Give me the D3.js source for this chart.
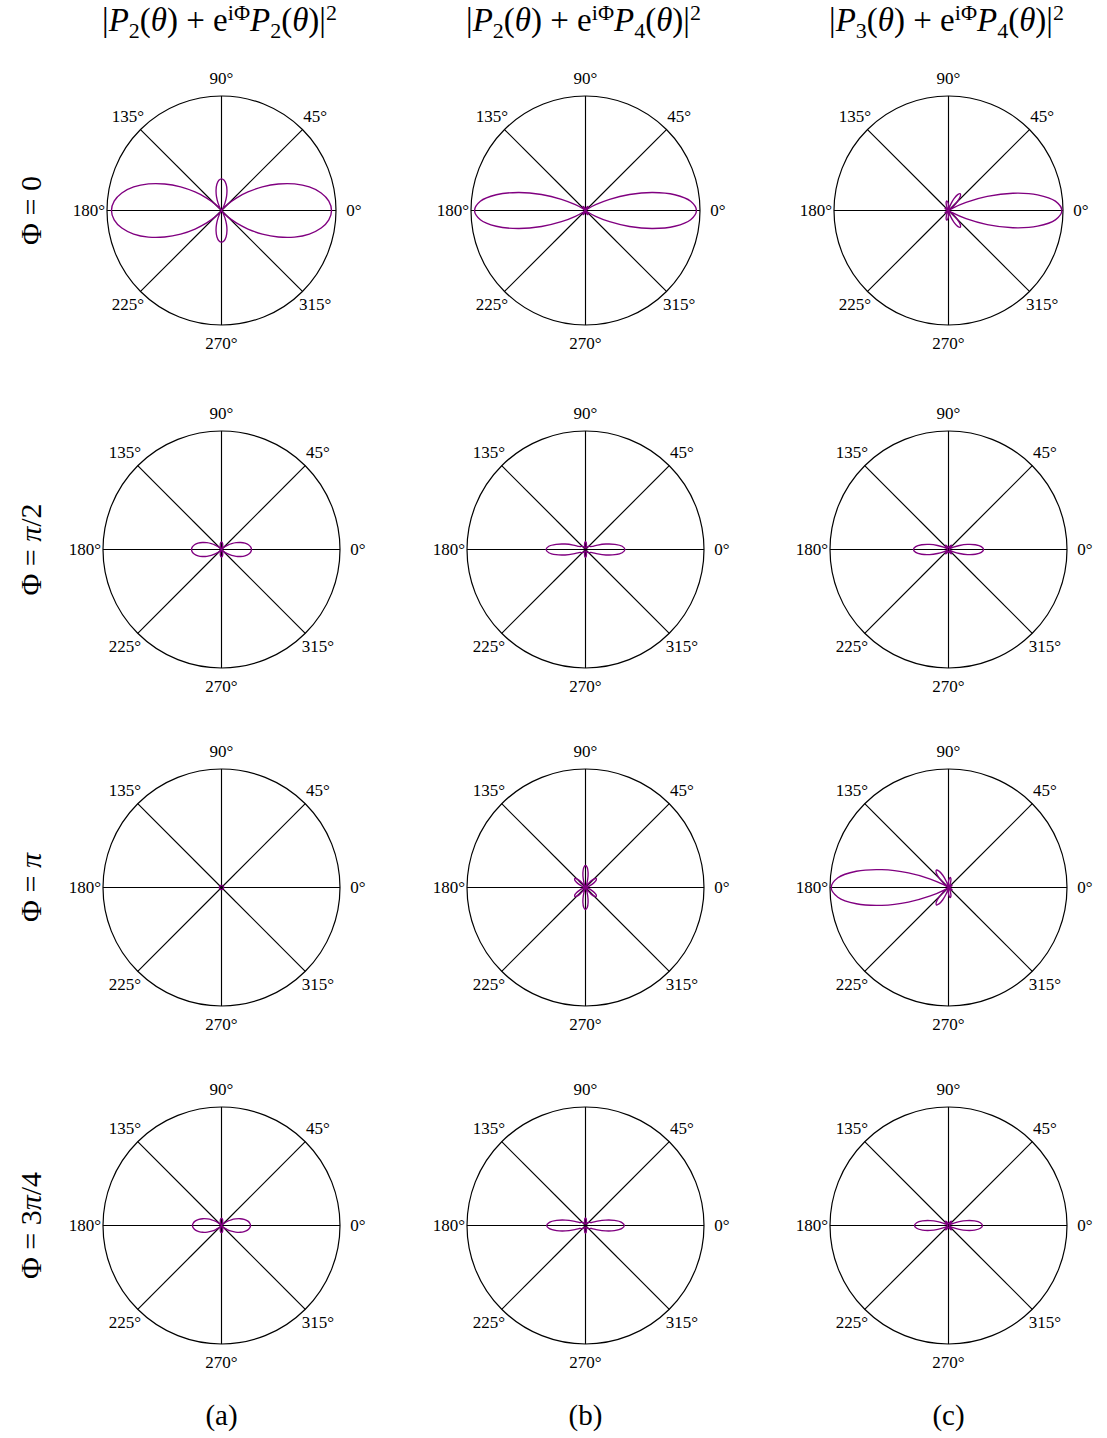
<!DOCTYPE html>
<html><head><meta charset="utf-8">
<script src="https://cdn.jsdelivr.net/npm/d3@7"></script>
<style>body{margin:0;background:#fff}</style>
</head><body>
<script>
// ---------------- data ----------------
const columnIds = ["(a)", "(b)", "(c)"];
const legendreOrders = [["2", "2"], ["2", "4"], ["3", "4"]];
const phaseLabels = [["0"], ["", "π", "/2"], ["", "π"], ["3", "π", "/4"]];
const thetaTicks = [0, 45, 90, 135, 180, 225, 270, 315];
const sampleAngles = [0,5,10,15,20,25,30,35,40,45,50,55,60,65,70,75,80,85,90,95,100,105,110,115,120,125,130,135,140,145,150,155,160,165,170,175,180];

// radius (fraction of outer circle) at each sample angle, 0..180 deg (curve is mirrored about 0 deg)
const phi0_a = [0.961,0.941,0.884,0.794,0.679,0.548,0.412,0.282,0.169,0.079,0.021,0.000,0.023,0.069,0.127,0.184,0.233,0.265,0.276,0.265,0.233,0.184,0.127,0.069,0.023,0.000,0.021,0.079,0.169,0.282,0.412,0.548,0.679,0.794,0.884,0.941,0.961];
const phi0_b = [0.969,0.922,0.792,0.608,0.409,0.232,0.102,0.027,0.001,0.006,0.023,0.037,0.042,0.036,0.026,0.016,0.009,0.005,0.004,0.005,0.009,0.016,0.026,0.036,0.042,0.037,0.023,0.006,0.001,0.027,0.102,0.232,0.409,0.608,0.792,0.922,0.969];
const phi0_c = [0.990,0.937,0.790,0.582,0.360,0.169,0.043,0.000,0.042,0.108,0.160,0.179,0.160,0.114,0.059,0.016,0.000,0.018,0.049,0.075,0.086,0.078,0.057,0.031,0.009,0.000,0.007,0.020,0.031,0.036,0.033,0.024,0.014,0.006,0.002,0.000,0.000];

const phiHalfPi_a = [0.253,0.247,0.231,0.205,0.172,0.136,0.099,0.065,0.037,0.016,0.004,0.000,0.004,0.014,0.027,0.040,0.052,0.060,0.063,0.060,0.052,0.040,0.027,0.014,0.004,0.000,0.004,0.016,0.037,0.065,0.099,0.136,0.172,0.205,0.231,0.247,0.253];
const phiHalfPi_b = [0.333,0.311,0.252,0.178,0.110,0.061,0.050,0.047,0.042,0.038,0.033,0.025,0.016,0.013,0.017,0.030,0.046,0.060,0.065,0.060,0.046,0.030,0.017,0.013,0.016,0.025,0.033,0.038,0.042,0.047,0.050,0.061,0.110,0.178,0.252,0.311,0.333];
const phiHalfPi_c = [0.296,0.278,0.230,0.165,0.099,0.046,0.015,0.008,0.015,0.029,0.041,0.044,0.041,0.033,0.025,0.020,0.019,0.020,0.021,0.020,0.019,0.020,0.025,0.033,0.041,0.044,0.041,0.029,0.015,0.008,0.015,0.046,0.099,0.165,0.230,0.278,0.296];

const phiPi_a = [0.018,0.018,0.018,0.018,0.018,0.018,0.018,0.018,0.018,0.018,0.018,0.018,0.018,0.018,0.018,0.018,0.018,0.018,0.018,0.018,0.018,0.018,0.018,0.018,0.018,0.018,0.018,0.018,0.018,0.018,0.018,0.018,0.018,0.018,0.018,0.018,0.018];
const phiPi_b = [0.000,0.000,0.003,0.011,0.030,0.057,0.088,0.111,0.118,0.104,0.073,0.035,0.007,0.001,0.025,0.071,0.126,0.169,0.186,0.169,0.126,0.071,0.025,0.001,0.007,0.035,0.073,0.104,0.118,0.111,0.088,0.057,0.030,0.011,0.003,0.000,0.000];
const phiPi_c = [0.000,0.000,0.002,0.006,0.014,0.024,0.033,0.036,0.031,0.020,0.007,0.000,0.009,0.031,0.057,0.078,0.086,0.075,0.049,0.018,0.000,0.016,0.059,0.114,0.160,0.179,0.160,0.108,0.042,0.000,0.043,0.169,0.360,0.582,0.790,0.937,0.990];

const phi3QPi_a = [0.245,0.239,0.223,0.198,0.167,0.131,0.096,0.063,0.035,0.015,0.004,0.000,0.004,0.013,0.026,0.039,0.051,0.058,0.061,0.058,0.051,0.039,0.026,0.013,0.004,0.000,0.004,0.015,0.035,0.063,0.096,0.131,0.167,0.198,0.223,0.239,0.245];
const phi3QPi_b = [0.328,0.306,0.248,0.176,0.108,0.061,0.049,0.046,0.041,0.038,0.033,0.024,0.016,0.013,0.017,0.030,0.045,0.059,0.064,0.059,0.045,0.030,0.017,0.013,0.016,0.024,0.033,0.038,0.041,0.046,0.049,0.061,0.108,0.176,0.248,0.306,0.328];
const phi3QPi_c = [0.287,0.270,0.223,0.160,0.096,0.044,0.015,0.008,0.014,0.028,0.040,0.043,0.040,0.032,0.024,0.020,0.019,0.019,0.020,0.019,0.019,0.020,0.024,0.032,0.040,0.043,0.040,0.028,0.014,0.008,0.015,0.044,0.096,0.160,0.223,0.270,0.287];

const curveGrid = [
  [phi0_a, phi0_b, phi0_c],
  [phiHalfPi_a, phiHalfPi_b, phiHalfPi_c],
  [phiPi_a, phiPi_b, phiPi_c],
  [phi3QPi_a, phi3QPi_b, phi3QPi_c]
];

// ---------------- layout ----------------
const W = 1107, H = 1438;
const colX = [221.5, 585.5, 948.5];
const rowY = [210.5, 549.5, 887.5, 1225.5];
const rowR = [114.5, 118.5, 118.5, 118.5];
const SERIF = "'Liberation Serif','Times New Roman',serif";
const curveColor = "#800080";

const svg = d3.select("body").append("svg")
  .attr("width", W).attr("height", H)
  .style("font-family", SERIF);

function closedPoints(arr) {
  const pts = [];
  for (let i = 0; i < sampleAngles.length; i++) pts.push([sampleAngles[i], arr[i]]);
  for (let i = sampleAngles.length - 2; i >= 1; i--) pts.push([360 - sampleAngles[i], arr[i]]);
  return pts;
}

curveGrid.forEach((row, ri) => {
  row.forEach((values, ci) => {
    const R = rowR[ri];
    const r = d3.scaleLinear().domain([0, 1]).range([0, R]);
    const g = svg.append("g").attr("transform", `translate(${colX[ci]},${rowY[ri]})`);
    const toRad = deg => (90 - deg) * Math.PI / 180;

    // spokes
    g.selectAll("line.spoke").data(thetaTicks).join("line")
      .attr("class", "spoke")
      .attr("x1", 0).attr("y1", 0)
      .attr("x2", d => r(1) * Math.cos(d * Math.PI / 180))
      .attr("y2", d => -r(1) * Math.sin(d * Math.PI / 180))
      .attr("stroke", "#000").attr("stroke-width", 1.15);

    g.append("circle").attr("r", r(1)).attr("fill", "none")
      .attr("stroke", "#000").attr("stroke-width", 1.2);

    // curve
    const line = d3.lineRadial()
      .angle(d => toRad(d[0]))
      .radius(d => r(d[1]))
      .curve(d3.curveCatmullRomClosed.alpha(0.5));
    g.append("path").attr("d", line(closedPoints(values)))
      .attr("fill", "none").attr("stroke", curveColor)
      .attr("stroke-width", 1.35).attr("stroke-linejoin", "round");

    // angle labels
    const lr = R + 18;
    g.selectAll("text.tick").data(thetaTicks).join("text")
      .attr("class", "tick")
      .attr("x", d => lr * Math.cos(d * Math.PI / 180))
      .attr("y", d => -lr * Math.sin(d * Math.PI / 180))
      .attr("text-anchor", "middle")
      .attr("dominant-baseline", "central")
      .attr("font-size", 17)
      .text(d => d + "°");
  });
});

// column titles
legendreOrders.forEach((lm, ci) => {
  const t = svg.append("text").attr("x", colX[ci] - 2).attr("y", 31)
    .attr("text-anchor", "middle").attr("font-size", 33);
  const parts = [
    {s: "|"}, {s: "P", i: 1}, {s: lm[0], sub: 1}, {s: "("}, {s: "θ", i: 1}, {s: ") + e"},
    {s: "iΦ", sup: 1}, {s: "P", i: 1}, {s: lm[1], sub: 1}, {s: "("}, {s: "θ", i: 1}, {s: ")|"}, {s: "2", sup: 1}
  ];
  let shift = 0;
  parts.forEach(p => {
    const target = p.sub ? 7 : (p.sup ? -11 : 0);
    const ts = t.append("tspan").attr("dy", target - shift).text(p.s);
    shift = target;
    if (p.sub || p.sup) ts.attr("font-size", 22);
    if (p.i) ts.attr("font-style", "italic");
  });
});

// row labels
phaseLabels.forEach((lab, ri) => {
  const t = svg.append("text")
    .attr("transform", `translate(41,${rowY[ri]}) rotate(-90)`)
    .attr("text-anchor", "middle").attr("font-size", 30);
  t.append("tspan").text("Φ = " + lab[0]);
  if (lab.length > 1) {
    t.append("tspan").attr("font-style", "italic").text(lab[1]);
    if (lab[2]) t.append("tspan").text(lab[2]);
  }
});

// bottom labels
columnIds.forEach((id, ci) => {
  svg.append("text").attr("x", colX[ci]).attr("y", 1425)
    .attr("text-anchor", "middle").attr("font-size", 29).text(id);
});
</script>
</body></html>
